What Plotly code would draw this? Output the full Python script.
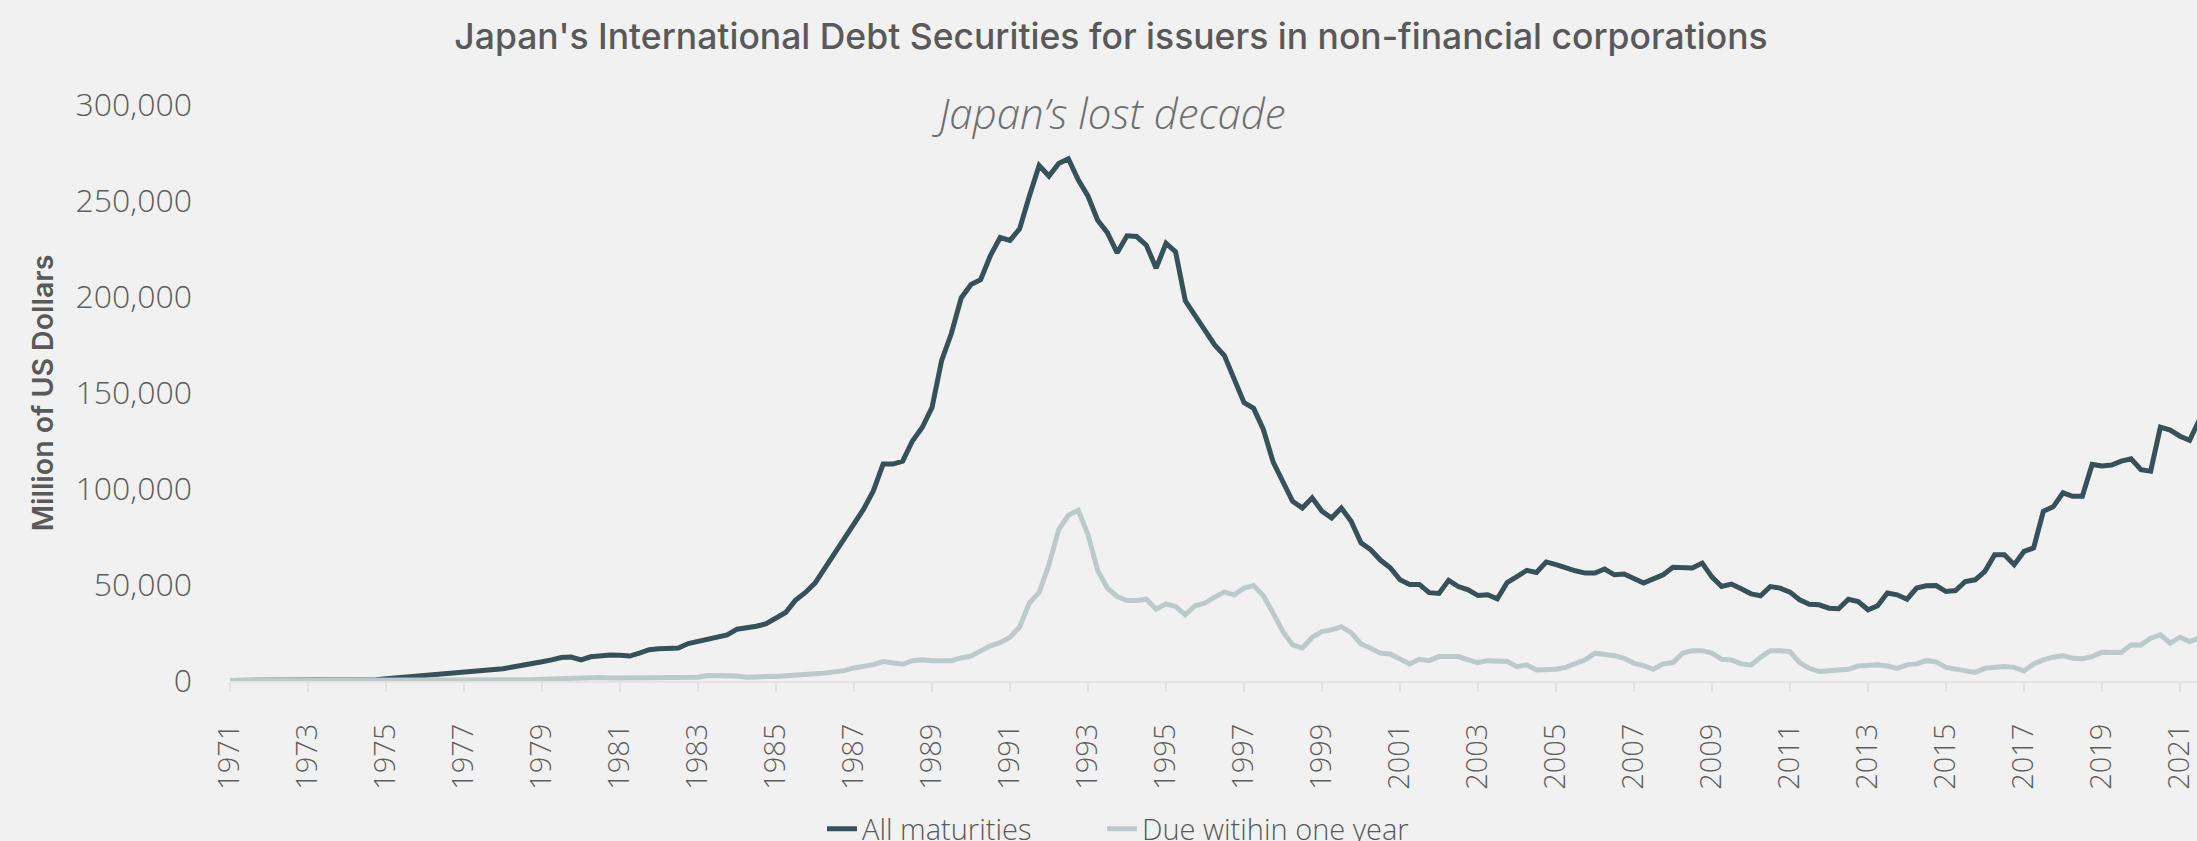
import pandas as pd
import plotly.graph_objects as go

# Quarterly values, Million of US Dollars, starting 1971 Q1
all_maturities = [
    300, 300, 300, 300, 300, 300, 300, 300, 400, 400, 400, 400, 500, 500, 600, 700,
    1200, 1600, 2100, 2600, 3000, 3400, 3700, 4000, 4300, 4800, 5200, 5800, 6400, 7300, 8000, 9000,
    10000, 11000, 12200, 12500, 11000, 12600, 13200, 13600, 13400, 13000, 14500, 16300, 16800, 16900, 17200, 19500,
    20500, 21900, 22800, 24000, 27000, 27500, 28500, 29800, 32500, 35700, 42000, 46000, 51000, 58500, 66500, 74000,
    82500, 89500, 99000, 113000, 113000, 114500, 125000, 132000, 142500, 167000, 181000, 199500, 206500, 209000, 221500, 231000,
    229500, 235500, 252500, 268500, 263000, 269500, 272000, 261000, 252500, 240000, 233500, 223000, 231900, 231500, 227000, 215000,
    228000, 223500, 198000, 190000, 182500, 175000, 169500, 157500, 145000, 142000, 131000, 114000, 103000, 93600, 90100, 95400,
    88400, 84900, 90100, 83200, 72000, 68400, 63000, 59000, 52700, 50300, 50300, 46000, 45600, 52400, 49200, 47500,
    44500, 44900, 42800, 51300, 54400, 57600, 56500, 62000, 60600, 58800, 57400, 56200, 56200, 58300, 55300, 55700,
    53100, 51000, 53200, 55300, 59200, 58800, 58800, 61400, 54100, 49200, 50500, 48000, 45400, 44400, 49200, 48400,
    46300, 42300, 40000, 39700, 37900, 37600, 42600, 41400, 37100, 39200, 45800, 44900, 42600, 48400, 49600, 49700,
    46600, 47100, 51800, 52700, 57100, 65800, 65800, 60600, 67500, 69300, 88400, 90700, 98000, 96200, 96200, 112800,
    112000, 112500, 114500, 115700, 110100, 109300, 132200, 130700, 127500, 125400, 136000,
]

due_within_one_year = [
    200, 200, 200, 200, 200, 200, 200, 200, 200, 200, 200, 200, 200, 200, 200, 200,
    200, 200, 200, 200, 300, 300, 300, 300, 300, 300, 300, 300, 300, 300, 500, 700,
    900, 1100, 1400, 1600, 1700, 1900, 1800, 1600, 1500, 1400, 1500, 1600, 1700, 1800, 1900, 1900,
    2000, 2800, 2900, 2800, 2600, 2000, 1900, 2300, 2400, 2600, 3000, 3400, 3800, 4100, 4600, 5400,
    6800, 7600, 8500, 10100, 9600, 8700, 10600, 11000, 10600, 10600, 10600, 12000, 13000, 15700, 18300, 20000,
    22800, 28000, 40600, 46100, 60600, 78800, 86300, 88900, 76200, 57600, 48400, 44000, 41900, 41900, 42600, 37400,
    40200, 38800, 34500, 39200, 40600, 43700, 46300, 44900, 48400, 49700, 44400, 35300, 25700, 18800, 17100, 22800,
    25700, 26600, 28300, 25200, 19300, 17100, 14500, 14100, 11300, 8900, 11300, 10600, 12700, 12700, 12700, 11000,
    9600, 10600, 10400, 10200, 7500, 8400, 5700, 5700, 6100, 7100, 9200, 11000, 14500, 14100, 13200, 11800,
    9200, 8000, 6100, 8900, 9600, 14500, 15800, 15800, 14500, 11300, 11000, 8900, 8400, 12400, 15800, 15800,
    15300, 9600, 6600, 4900, 5200, 5200, 6100, 7800, 8400, 8400, 7800, 6600, 8400, 8900, 10600, 10000,
    7100, 6300, 5200, 4500, 6600, 7000, 7500, 7100, 5200, 8900, 11000, 12400, 13200, 11800, 11600, 12700,
    15000, 14800, 14800, 18800, 18800, 22300, 24000, 19700, 22800, 20500, 22500,
]

series_names = ["All maturities", "Due witihin one year"]
series_colors = ["#36515a", "#bccacc"]
start_quarter = "1971-01-01"

dates = pd.date_range(start_quarter, periods=len(all_maturities), freq="QS")

W, H = 2197, 841
BG = "#f1f1f1"
TXT = "#595959"
LIGHT_FONT = "Open Sans"
YTICK_FONT = dict(family=LIGHT_FONT, size=32, color="#5e5e5e", weight=300)
XTICK_FONT = dict(family=LIGHT_FONT, size=29, color="#5e5e5e", weight=300)
LEGEND_FONT = dict(family=LIGHT_FONT, size=29, color=TXT, weight=300)

fig = go.Figure()
legend_ids = ["legend", "legend2"]
for name, vals, col, lg in zip(series_names, [all_maturities, due_within_one_year], series_colors, legend_ids):
    fig.add_trace(go.Scatter(x=dates, y=vals, name=name, mode="lines", legend=lg,
                             line=dict(color=col, width=5)))

legend_common = dict(orientation="h", xanchor="left", xref="container",
                     y=(H - 829) / H, yanchor="middle", yref="container",
                     font=LEGEND_FONT, bgcolor="rgba(0,0,0,0)")

fig.update_layout(
    width=W, height=H,
    paper_bgcolor=BG, plot_bgcolor=BG,
    margin=dict(l=230, r=0, t=105, b=160, autoexpand=False),
    title=dict(text="Japan's International Debt Securities for issuers in non-financial corporations",
               x=1111 / W, xanchor="center", xref="container",
               y=1 - 37 / H, yanchor="middle", yref="container",
               font=dict(family="Inter", size=35.5, color=TXT, weight=500)),
    showlegend=True,
    legend=dict(x=822 / W, **legend_common),
    legend2=dict(x=1102 / W, **legend_common),
    xaxis=dict(type="date", range=["1971-01-01", "2021-06-09"],
               tick0="1971-01-01", dtick="M24", tickformat="%Y", tickangle=-90,
               ticks="outside", ticklen=9, tickwidth=2, tickcolor="#e2e2e2",
               showline=True, linecolor="#e4e4e4", linewidth=2,
               showgrid=False, zeroline=False, tickfont=XTICK_FONT,
               ticklabelstandoff=20, ticklabeloverflow="allow", automargin=False),
    yaxis=dict(range=[0, 300000], dtick=50000, tickformat=",d",
               showgrid=False, zeroline=False, showline=False, ticks="",
               tickfont=YTICK_FONT, ticklabelstandoff=37, automargin=False,
               title=dict(text="Million of US Dollars", standoff=13,
                          font=dict(family="Inter", size=28.5, color=TXT, weight=600))),
    annotations=[dict(text="Japan’s lost decade", xref="paper", yref="paper",
                      x=(1109 - 230) / 1967, y=(681 - 112) / 576,
                      xanchor="center", yanchor="middle", showarrow=False,
                      font=dict(family=LIGHT_FONT, size=42, color="#6e6e6e", style="italic", weight=300))],
)

fig.write_html("out.html", config={"displayModeBar": False},
               post_script="document.body.style.margin='0';")
